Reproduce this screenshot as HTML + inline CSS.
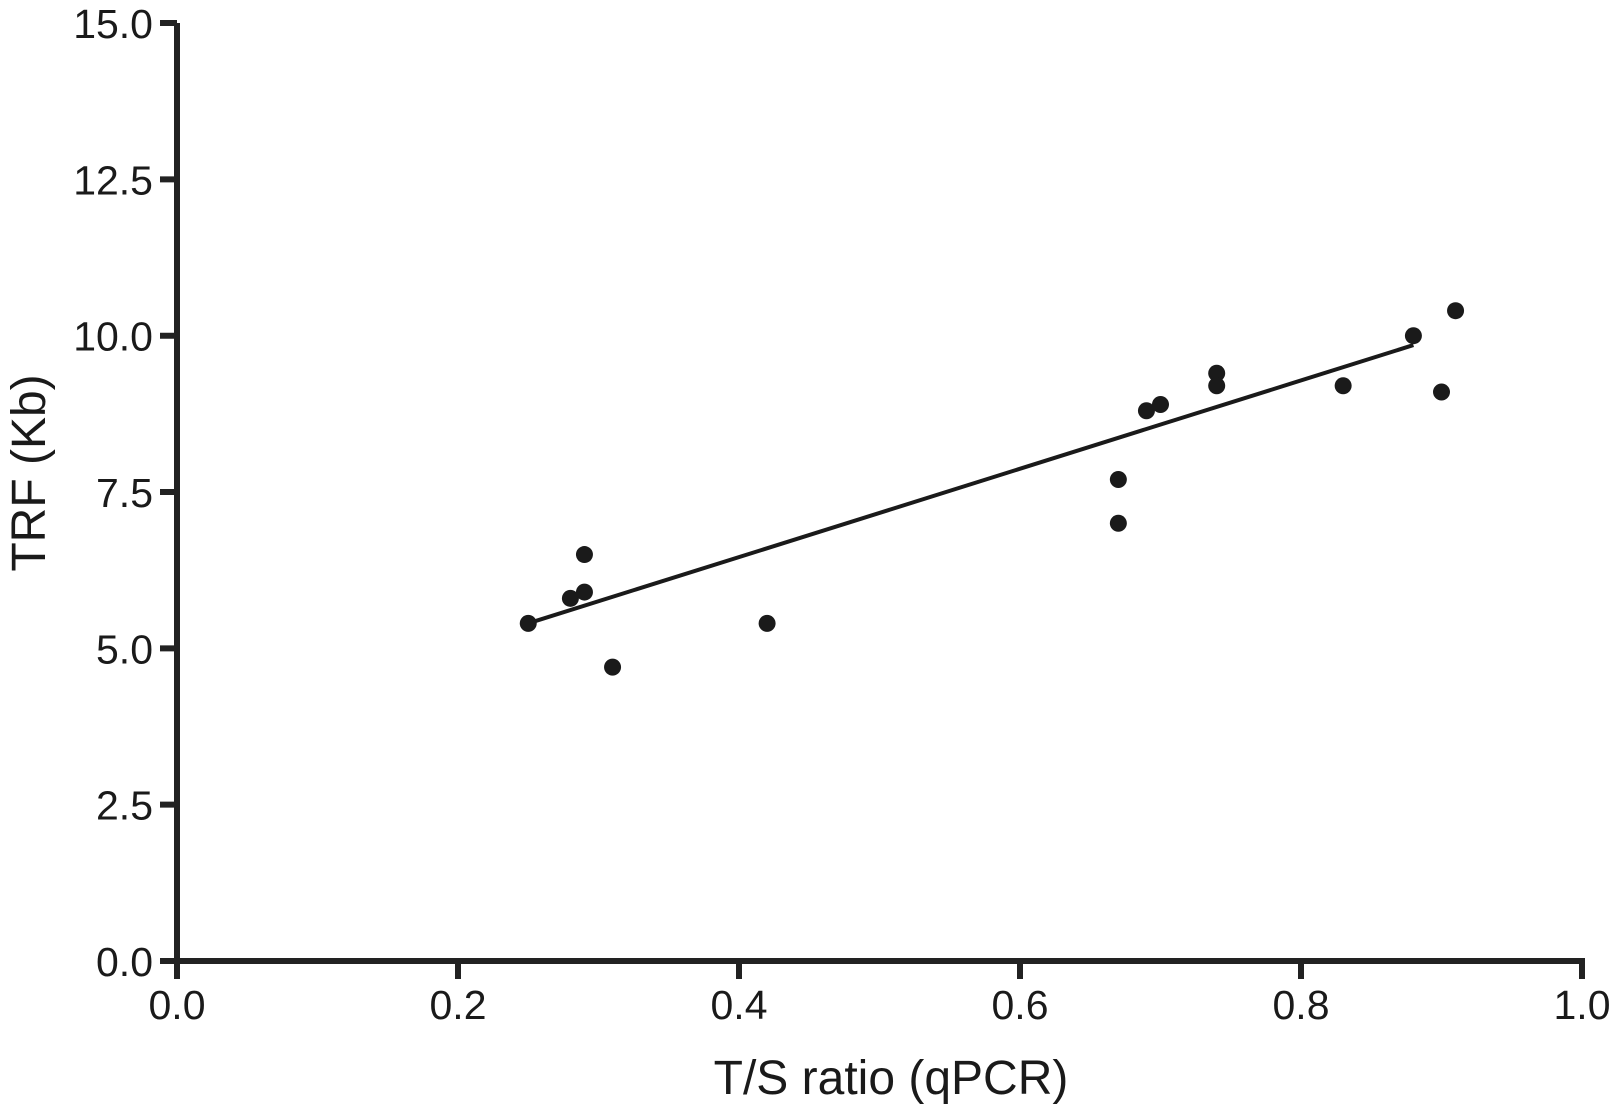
<!DOCTYPE html>
<html><head><meta charset="utf-8"><style>
body{margin:0;background:#fff}
text{font-family:"Liberation Sans",Arial,sans-serif;fill:#1a1a1a}
</style></head><body>
<svg id="chart" width="1613" height="1104" xmlns="http://www.w3.org/2000/svg">
<g id="axes"></g>
<g id="marks"></g>
<text x="891" y="1094" font-size="48" text-anchor="middle">T/S ratio (qPCR)</text>
<text transform="translate(45,473) rotate(-90)" font-size="48" text-anchor="middle">TRF (Kb)</text>
</svg>
<script>
const xVals=[0.25,0.28,0.29,0.29,0.31,0.42,0.67,0.67,0.69,0.70,0.74,0.74,0.83,0.88,0.90,0.91];
const yVals=[5.4,5.8,5.9,6.5,4.7,5.4,7.7,7.0,8.8,8.9,9.4,9.2,9.2,10.0,9.1,10.4];
const xTicks=[0,0.2,0.4,0.6,0.8,1.0];
const yTicks=[0,2.5,5,7.5,10,12.5,15];
const fitX=[0.25,0.88];
const fitY=[5.4,9.85];
const NS='http://www.w3.org/2000/svg';
const X=v=>177+v*1405, Y=v=>961-v*62.53;
function mk(t,a,p){const e=document.createElementNS(NS,t);for(const k in a)e.setAttribute(k,a[k]);p.appendChild(e);return e;}
const ax=document.getElementById('axes'),mg=document.getElementById('marks');
const st={stroke:'#222','stroke-width':6,fill:'none'};
let l=mk('line',Object.assign({x1:X(0),y1:Y(15),x2:X(0),y2:Y(0)+3},st),ax);


l=mk('line',Object.assign({x1:X(0)-3,y1:Y(0),x2:X(1)+3,y2:Y(0)},st),ax);


xTicks.forEach(v=>{
 const t=mk('line',Object.assign({x1:X(v),y1:Y(0),x2:X(v),y2:Y(0)+18},st),ax);
 
 
 const tx=mk('text',{x:X(v),y:1019,'font-size':41,'text-anchor':'middle'},ax);
 tx.textContent=v.toFixed(1);
 
 
});
yTicks.forEach(v=>{
 const t=mk('line',Object.assign({x1:X(0)-17,y1:Y(v),x2:X(0),y2:Y(v)},st),ax);
 
 
 const tx=mk('text',{x:153,y:Y(v)+15,'font-size':41,'text-anchor':'end'},ax);
 tx.textContent=v.toFixed(1);
 
 
});
const fl=mk('line',{x1:X(fitX[0]),y1:Y(fitY[0]),x2:X(fitX[1]),y2:Y(fitY[1]),stroke:'#1a1a1a','stroke-width':4},mg);


xVals.forEach((v,i)=>{
 const c=mk('circle',{cx:X(v),cy:Y(yVals[i]),r:8.5,fill:'#1a1a1a'},mg);
 
 
});
</script>
</body></html>
